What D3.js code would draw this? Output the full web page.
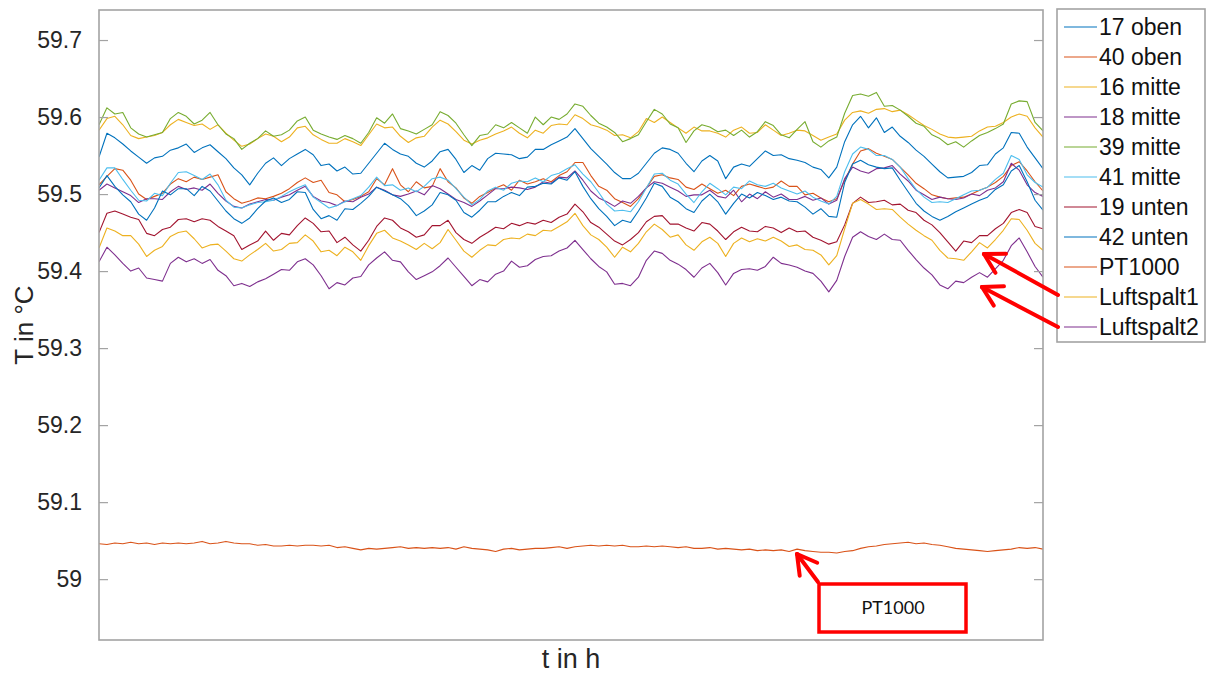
<!DOCTYPE html>
<html>
<head>
<meta charset="utf-8">
<script src="https://cdn.jsdelivr.net/npm/d3@7"></script>
<style>
  html, body { margin: 0; padding: 0; background: #fff; }
  svg { display: block; }
</style>
</head>
<body>
<svg id="chart" width="1211" height="674"></svg>
<script>
// Sensor temperatures in °C, one sample per step along the time axis
const oben17 = [
  59.548,59.579,59.573,59.565,59.556,59.548,59.540,59.547,59.549,59.557,
  59.560,59.565,59.554,59.560,59.564,59.555,59.546,59.534,59.525,59.512,
  59.527,59.540,59.547,59.537,59.546,59.552,59.558,59.551,59.537,59.539,
  59.530,59.535,59.526,59.527,59.540,59.553,59.566,59.558,59.552,59.549,
  59.540,59.535,59.543,59.555,59.558,59.545,59.528,59.537,59.531,59.546,
  59.553,59.552,59.551,59.546,59.548,59.558,59.558,59.564,59.569,59.574,
  59.585,59.572,59.559,59.549,59.539,59.528,59.520,59.520,59.527,59.540,
  59.553,59.560,59.558,59.553,59.540,59.529,59.543,59.550,59.543,59.520,
  59.535,59.539,59.536,59.546,59.556,59.550,59.551,59.546,59.544,59.541,
  59.535,59.532,59.521,59.535,59.568,59.590,59.601,59.586,59.599,59.580,
  59.587,59.575,59.567,59.557,59.549,59.539,59.529,59.521,59.522,59.523,
  59.528,59.537,59.538,59.552,59.560,59.580,59.579,59.561,59.547,59.533
];
const oben40 = [
  59.512,59.523,59.533,59.531,59.518,59.500,59.493,59.497,59.501,59.513,
  59.520,59.516,59.522,59.519,59.522,59.525,59.503,59.494,59.488,59.491,
  59.495,59.494,59.497,59.501,59.507,59.515,59.521,59.515,59.518,59.502,
  59.499,59.490,59.493,59.497,59.503,59.520,59.512,59.533,59.512,59.503,
  59.516,59.508,59.510,59.533,59.516,59.508,59.495,59.488,59.497,59.502,
  59.508,59.512,59.505,59.518,59.513,59.516,59.520,59.516,59.524,59.529,
  59.541,59.541,59.524,59.510,59.505,59.494,59.489,59.484,59.494,59.508,
  59.523,59.525,59.521,59.519,59.509,59.506,59.513,59.507,59.501,59.505,
  59.498,59.510,59.513,59.510,59.507,59.509,59.517,59.510,59.510,59.499,
  59.501,59.495,59.490,59.494,59.518,59.539,59.556,59.559,59.553,59.549,
  59.545,59.535,59.525,59.514,59.507,59.499,59.496,59.494,59.495,59.496,
  59.500,59.505,59.509,59.515,59.523,59.537,59.542,59.530,59.516,59.504
];
const mitte16 = [
  59.583,59.598,59.601,59.590,59.576,59.572,59.574,59.576,59.580,59.590,
  59.597,59.593,59.589,59.591,59.584,59.590,59.579,59.570,59.562,59.565,
  59.572,59.578,59.575,59.568,59.574,59.586,59.588,59.577,59.571,59.566,
  59.566,59.572,59.568,59.563,59.577,59.591,59.586,59.587,59.575,59.567,
  59.573,59.575,59.587,59.596,59.591,59.581,59.570,59.565,59.570,59.573,
  59.578,59.582,59.587,59.579,59.573,59.583,59.579,59.589,59.591,59.590,
  59.603,59.598,59.590,59.587,59.583,59.576,59.577,59.573,59.581,59.598,
  59.593,59.600,59.593,59.586,59.579,59.587,59.582,59.582,59.579,59.574,
  59.583,59.587,59.579,59.580,59.590,59.583,59.576,59.579,59.583,59.582,
  59.576,59.570,59.574,59.578,59.596,59.606,59.608,59.605,59.610,59.611,
  59.607,59.609,59.603,59.596,59.589,59.584,59.578,59.574,59.573,59.574,
  59.575,59.582,59.587,59.588,59.593,59.600,59.604,59.601,59.586,59.574
];
const mitte18 = [
  59.505,59.513,59.508,59.503,59.498,59.489,59.494,59.494,59.493,59.503,
  59.510,59.506,59.508,59.505,59.513,59.501,59.491,59.484,59.482,59.487,
  59.490,59.493,59.492,59.496,59.499,59.505,59.510,59.497,59.491,59.489,
  59.485,59.491,59.490,59.496,59.500,59.509,59.505,59.499,59.497,59.500,
  59.504,59.499,59.511,59.507,59.500,59.493,59.489,59.484,59.491,59.499,
  59.507,59.507,59.509,59.508,59.506,59.509,59.516,59.514,59.522,59.521,
  59.530,59.518,59.504,59.495,59.490,59.484,59.491,59.488,59.497,59.508,
  59.516,59.514,59.509,59.504,59.497,59.499,59.499,59.505,59.497,59.495,
  59.505,59.490,59.500,59.494,59.503,59.496,59.500,59.493,59.493,59.497,
  59.492,59.495,59.487,59.492,59.520,59.535,59.530,59.527,59.533,59.534,
  59.537,59.526,59.517,59.505,59.499,59.493,59.496,59.494,59.493,59.495,
  59.500,59.498,59.505,59.508,59.516,59.540,59.531,59.512,59.502,59.497
];
const mitte39 = [
  59.590,59.612,59.604,59.606,59.586,59.578,59.574,59.577,59.580,59.598,
  59.606,59.601,59.591,59.596,59.606,59.590,59.578,59.572,59.558,59.566,
  59.572,59.582,59.575,59.577,59.583,59.595,59.600,59.583,59.578,59.574,
  59.571,59.576,59.572,59.566,59.580,59.599,59.592,59.604,59.585,59.582,
  59.578,59.584,59.590,59.607,59.602,59.592,59.577,59.563,59.576,59.578,
  59.590,59.586,59.593,59.586,59.579,59.600,59.590,59.600,59.597,59.604,
  59.617,59.614,59.602,59.592,59.587,59.580,59.568,59.572,59.577,59.594,
  59.610,59.604,59.591,59.586,59.567,59.582,59.590,59.587,59.581,59.583,
  59.576,59.583,59.574,59.581,59.594,59.589,59.577,59.573,59.584,59.594,
  59.568,59.561,59.569,59.574,59.605,59.628,59.630,59.627,59.632,59.614,
  59.615,59.609,59.601,59.592,59.588,59.577,59.572,59.564,59.568,59.561,
  59.569,59.576,59.580,59.585,59.591,59.617,59.621,59.620,59.593,59.582
];
const mitte41 = [
  59.518,59.534,59.534,59.519,59.505,59.492,59.491,59.501,59.498,59.514,
  59.528,59.529,59.524,59.519,59.526,59.512,59.492,59.483,59.482,59.486,
  59.489,59.490,59.492,59.497,59.503,59.508,59.512,59.496,59.489,59.482,
  59.485,59.490,59.494,59.498,59.509,59.522,59.511,59.512,59.505,59.508,
  59.503,59.510,59.520,59.522,59.518,59.507,59.496,59.486,59.493,59.504,
  59.509,59.505,59.514,59.517,59.516,59.521,59.516,59.524,59.527,59.533,
  59.538,59.526,59.516,59.502,59.487,59.478,59.479,59.477,59.490,59.508,
  59.526,59.527,59.518,59.513,59.500,59.489,59.503,59.514,59.507,59.499,
  59.509,59.507,59.517,59.512,59.510,59.514,59.508,59.504,59.500,59.504,
  59.496,59.491,59.487,59.497,59.529,59.552,59.561,59.558,59.550,59.550,
  59.545,59.535,59.520,59.506,59.496,59.489,59.490,59.489,59.494,59.499,
  59.504,59.505,59.509,59.519,59.527,59.550,59.545,59.525,59.515,59.509
];
const unten19 = [
  59.450,59.475,59.478,59.474,59.470,59.467,59.449,59.446,59.454,59.457,
  59.467,59.468,59.464,59.468,59.466,59.458,59.452,59.446,59.428,59.434,
  59.439,59.452,59.440,59.449,59.447,59.459,59.469,59.462,59.451,59.452,
  59.437,59.444,59.434,59.426,59.440,59.458,59.469,59.466,59.456,59.451,
  59.444,59.447,59.459,59.459,59.466,59.450,59.441,59.436,59.444,59.450,
  59.457,59.455,59.462,59.459,59.463,59.461,59.466,59.463,59.470,59.474,
  59.487,59.477,59.463,59.457,59.448,59.439,59.434,59.441,59.450,59.464,
  59.471,59.472,59.461,59.461,59.456,59.452,59.463,59.461,59.452,59.441,
  59.451,59.457,59.452,59.451,59.458,59.456,59.450,59.456,59.451,59.452,
  59.444,59.440,59.435,59.438,59.460,59.488,59.496,59.489,59.490,59.492,
  59.486,59.487,59.479,59.476,59.466,59.460,59.450,59.438,59.426,59.439,
  59.437,59.446,59.446,59.455,59.462,59.476,59.480,59.476,59.458,59.455
];
const unten42 = [
  59.508,59.524,59.510,59.499,59.490,59.474,59.466,59.482,59.504,59.499,
  59.507,59.507,59.498,59.510,59.504,59.491,59.478,59.468,59.462,59.469,
  59.481,59.491,59.495,59.489,59.493,59.503,59.502,59.480,59.468,59.472,
  59.466,59.481,59.480,59.488,59.497,59.509,59.504,59.499,59.494,59.485,
  59.472,59.478,59.486,59.502,59.499,59.492,59.476,59.470,59.479,59.490,
  59.490,59.497,59.502,59.498,59.509,59.510,59.514,59.513,59.521,59.518,
  59.529,59.510,59.494,59.481,59.471,59.459,59.466,59.463,59.478,59.495,
  59.514,59.510,59.496,59.490,59.481,59.476,59.491,59.500,59.490,59.474,
  59.488,59.500,59.495,59.502,59.498,59.493,59.496,59.491,59.490,59.483,
  59.474,59.481,59.471,59.470,59.515,59.539,59.544,59.538,59.535,59.533,
  59.534,59.518,59.503,59.488,59.478,59.471,59.466,59.471,59.477,59.482,
  59.487,59.492,59.496,59.506,59.512,59.530,59.537,59.516,59.492,59.479
];
const pt1000 = [
  59.046,59.045,59.047,59.046,59.048,59.046,59.047,59.045,59.047,59.046,
  59.047,59.046,59.047,59.049,59.046,59.047,59.049,59.047,59.046,59.046,
  59.044,59.045,59.043,59.043,59.044,59.043,59.044,59.044,59.043,59.044,
  59.041,59.042,59.040,59.038,59.040,59.039,59.040,59.041,59.042,59.040,
  59.041,59.040,59.041,59.040,59.041,59.039,59.042,59.040,59.039,59.038,
  59.036,59.039,59.040,59.038,59.039,59.040,59.040,59.041,59.042,59.040,
  59.042,59.043,59.044,59.043,59.044,59.043,59.044,59.042,59.042,59.043,
  59.042,59.043,59.042,59.041,59.042,59.040,59.040,59.041,59.039,59.040,
  59.039,59.038,59.039,59.037,59.038,59.037,59.038,59.036,59.039,59.037,
  59.036,59.035,59.035,59.034,59.036,59.037,59.040,59.042,59.043,59.045,
  59.046,59.047,59.048,59.046,59.047,59.045,59.044,59.042,59.040,59.039,
  59.038,59.037,59.036,59.037,59.038,59.039,59.041,59.040,59.041,59.039
];
const luftspalt1 = [
  59.430,59.456,59.452,59.446,59.446,59.435,59.419,59.427,59.432,59.445,
  59.450,59.452,59.442,59.430,59.434,59.435,59.426,59.416,59.413,59.421,
  59.428,59.436,59.426,59.428,59.436,59.437,59.447,59.439,59.425,59.427,
  59.420,59.431,59.425,59.414,59.433,59.449,59.453,59.443,59.439,59.434,
  59.428,59.436,59.429,59.437,59.454,59.440,59.426,59.418,59.427,59.434,
  59.433,59.441,59.443,59.442,59.448,59.446,59.453,59.452,59.458,59.464,
  59.475,59.459,59.447,59.441,59.431,59.418,59.431,59.425,59.436,59.451,
  59.461,59.454,59.444,59.447,59.434,59.427,59.438,59.444,59.436,59.419,
  59.436,59.443,59.438,59.442,59.439,59.444,59.439,59.432,59.434,59.428,
  59.427,59.421,59.408,59.420,59.455,59.488,59.493,59.487,59.480,59.481,
  59.480,59.470,59.461,59.453,59.446,59.440,59.427,59.417,59.416,59.414,
  59.425,59.437,59.430,59.441,59.453,59.468,59.467,59.453,59.436,59.427
];
const luftspalt2 = [
  59.412,59.431,59.421,59.410,59.400,59.404,59.391,59.389,59.387,59.410,
  59.418,59.412,59.416,59.410,59.415,59.401,59.394,59.381,59.384,59.380,
  59.386,59.390,59.396,59.402,59.401,59.412,59.416,59.408,59.394,59.377,
  59.385,59.382,59.391,59.393,59.408,59.417,59.425,59.414,59.412,59.399,
  59.389,59.394,59.399,59.407,59.417,59.405,59.393,59.381,59.389,59.386,
  59.396,59.400,59.413,59.405,59.407,59.415,59.419,59.420,59.426,59.430,
  59.440,59.428,59.416,59.406,59.399,59.383,59.384,59.381,59.392,59.414,
  59.426,59.423,59.414,59.409,59.402,59.392,59.404,59.410,59.398,59.382,
  59.397,59.402,59.403,59.401,59.406,59.418,59.410,59.408,59.405,59.400,
  59.397,59.387,59.373,59.388,59.419,59.444,59.451,59.445,59.441,59.448,
  59.441,59.440,59.427,59.415,59.404,59.395,59.382,59.377,59.387,59.385,
  59.392,59.398,59.392,59.403,59.414,59.433,59.443,59.425,59.406,59.392
];

const seriesNames = ["17 oben", "40 oben", "16 mitte", "18 mitte", "39 mitte", "41 mitte",
                     "19 unten", "42 unten", "PT1000", "Luftspalt1", "Luftspalt2"];
const seriesValues = [oben17, oben40, mitte16, mitte18, mitte39, mitte41,
                      unten19, unten42, pt1000, luftspalt1, luftspalt2];
const seriesColors = ["#0072BD", "#D95319", "#EDB120", "#7E2F8E", "#77AC30", "#4DBEEE",
                      "#A2142F", "#0072BD", "#D95319", "#EDB120", "#7E2F8E"];
const yTicks = [59, 59.1, 59.2, 59.3, 59.4, 59.5, 59.6, 59.7];
const yDomain = [58.921, 59.739];

const FONT = "'Liberation Sans', Arial, Helvetica, sans-serif";
const frameColor = "#a3a3a3";
const plot = { left: 99, right: 1043, top: 10, bottom: 640 };

const svg = d3.select("#chart");
svg.append("rect").attr("width", 1211).attr("height", 674).attr("fill", "#fff");

const nSamples = oben17.length;
const x = d3.scaleLinear().domain([0, nSamples - 1]).range([plot.left, plot.right]);
const y = d3.scaleLinear().domain(yDomain).range([plot.bottom, plot.top]);

svg.append("defs").append("clipPath").attr("id", "plotClip")
  .append("rect")
  .attr("x", plot.left).attr("y", plot.top)
  .attr("width", plot.right - plot.left).attr("height", plot.bottom - plot.top);

// Temperature traces
const line = d3.line().x((d, i) => x(i)).y(d => y(d));
const traces = svg.append("g").attr("clip-path", "url(#plotClip)");
seriesValues.forEach((vals, k) => {
  traces.append("path")
    .datum(vals)
    .attr("d", line)
    .attr("fill", "none")
    .attr("stroke", seriesColors[k])
    .attr("stroke-width", 1.1)
    .attr("stroke-linejoin", "round");
});

// Axes: ticks point into the plot on both sides, labels only on the left
const fmt = d3.format("~g");
const leftAxis = svg.append("g")
  .attr("transform", `translate(${plot.left},0)`)
  .call(d3.axisLeft(y).tickValues(yTicks).tickFormat(fmt)
        .tickSizeInner(-9).tickSizeOuter(0).tickPadding(17));
const rightAxis = svg.append("g")
  .attr("transform", `translate(${plot.right},0)`)
  .call(d3.axisRight(y).tickValues(yTicks).tickFormat("")
        .tickSizeInner(-9).tickSizeOuter(0));
[leftAxis, rightAxis].forEach(g => {
  g.select(".domain").remove();
  g.selectAll(".tick line").attr("stroke", frameColor).attr("stroke-width", 1.2);
});
leftAxis.selectAll(".tick text")
  .attr("font-family", FONT).attr("font-size", 23).attr("fill", "#262626");

// Plot frame
svg.append("rect")
  .attr("x", plot.left).attr("y", plot.top)
  .attr("width", plot.right - plot.left).attr("height", plot.bottom - plot.top)
  .attr("fill", "none").attr("stroke", frameColor).attr("stroke-width", 1.6);

// Axis titles
svg.append("text")
  .attr("x", (plot.left + plot.right) / 2).attr("y", 668)
  .attr("text-anchor", "middle")
  .attr("font-family", FONT).attr("font-size", 27).attr("fill", "#262626")
  .text("t in h");
svg.append("text")
  .attr("transform", "translate(33,325) rotate(-90)")
  .attr("text-anchor", "middle")
  .attr("font-family", FONT).attr("font-size", 26).attr("fill", "#262626")
  .text("T in °C");

// Legend
const legend = { left: 1057, top: 9, width: 148, height: 333, rowTop: 27, rowStep: 30 };
svg.append("rect")
  .attr("x", legend.left).attr("y", legend.top)
  .attr("width", legend.width).attr("height", legend.height)
  .attr("fill", "#fff").attr("stroke", frameColor).attr("stroke-width", 1.6);
const rows = svg.append("g").selectAll("g")
  .data(seriesNames)
  .join("g")
  .attr("transform", (d, i) => `translate(${legend.left},${legend.rowTop + i * legend.rowStep})`);
rows.append("line")
  .attr("x1", 7).attr("x2", 40).attr("y1", 0).attr("y2", 0)
  .attr("stroke", (d, i) => seriesColors[i]).attr("stroke-width", 1.1);
rows.append("text")
  .attr("x", 42).attr("y", 8)
  .attr("font-family", FONT).attr("font-size", 23).attr("fill", "#111")
  .text(d => d);

// Red call-outs
const red = "#ff0000";
function arrow(x1, y1, x2, y2) {
  const g = svg.append("g").attr("stroke", red).attr("stroke-width", 4)
    .attr("stroke-linecap", "round").attr("fill", "none");
  g.append("line").attr("x1", x1).attr("y1", y1).attr("x2", x2).attr("y2", y2);
  const a = Math.atan2(y1 - y2, x1 - x2);
  const len = 22, spread = 0.52;
  [a - spread, a + spread].forEach(t => {
    g.append("line").attr("x1", x2).attr("y1", y2)
      .attr("x2", x2 + len * Math.cos(t)).attr("y2", y2 + len * Math.sin(t));
  });
}
arrow(1058, 295, 984, 254);
arrow(1058, 327, 982, 287);
arrow(818, 582, 797, 554);

svg.append("rect")
  .attr("x", 819).attr("y", 584).attr("width", 147).attr("height", 48)
  .attr("fill", "#fff").attr("stroke", red).attr("stroke-width", 3.5);
svg.append("text")
  .attr("x", 893).attr("y", 614)
  .attr("text-anchor", "middle")
  .attr("font-family", "Lato, 'Open Sans', sans-serif").attr("font-size", 18).attr("fill", "#111")
  .text("PT1000");
</script>
</body>
</html>
